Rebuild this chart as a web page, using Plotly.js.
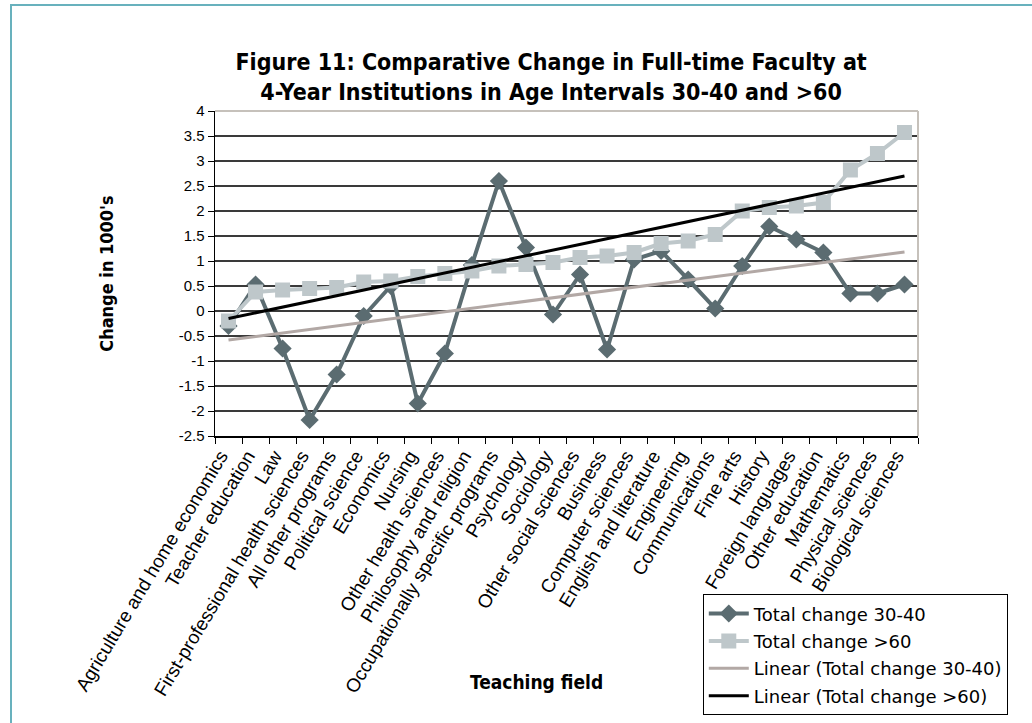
<!DOCTYPE html>
<html>
<head>
<meta charset="utf-8">
<script src="https://cdn.plot.ly/plotly-3.0.1.min.js"></script>
<style>
  html, body { margin: 0; padding: 0; background: #fff; }
  #wrap { position: relative; width: 1032px; height: 723px; overflow: hidden; }
  #chart { width: 1032px; height: 723px; }
  #frame { position: absolute; left: 10px; top: 4px; right: -10px; bottom: -10px;
           border-top: 2px solid #68b1bd; border-left: 2px solid #68b1bd; pointer-events: none; }
</style>
</head>
<body>
<div id="wrap">
  <div id="chart"></div>
  <div id="frame"></div>
</div>
<script>
// ---- data ----
const categories = [
  "Agriculture and home economics", "Teacher education", "Law",
  "First-professional health sciences", "All other programs", "Political science",
  "Economics", "Nursing", "Other health sciences", "Philosophy and religion",
  "Occupationally specific programs", "Psychology", "Sociology",
  "Other social sciences", "Business", "Computer sciences", "English and literature",
  "Engineering", "Communications", "Fine arts", "History", "Foreign languages",
  "Other education", "Mathematics", "Physical sciences", "Biological sciences"
];
const change3040 = [-0.3, 0.53, -0.75, -2.18, -1.27, -0.1, 0.5, -1.85, -0.85, 0.92,
  2.6, 1.27, -0.07, 0.73, -0.77, 1.03, 1.2, 0.63, 0.05, 0.9, 1.69, 1.43, 1.17,
  0.35, 0.35, 0.53];
const changeOver60 = [-0.2, 0.38, 0.42, 0.45, 0.47, 0.58, 0.6, 0.69, 0.75, 0.8,
  0.9, 0.93, 0.97, 1.07, 1.1, 1.17, 1.35, 1.4, 1.53, 2.0, 2.07, 2.1, 2.17,
  2.82, 3.15, 3.57];
// trendline end values as drawn in the reference (first and last category)
const trend3040Ends = [-0.58, 1.18];
const trendOver60Ends = [-0.15, 2.7];
const seriesNames = ["Total change 30-40", "Total change >60",
  "Linear (Total change 30-40)", "Linear (Total change >60)"];
const yTickValues = [-2.5, -2, -1.5, -1, -0.5, 0, 0.5, 1, 1.5, 2, 2.5, 3, 3.5, 4];

const trendX = [categories[0], categories[categories.length - 1]];

const traces = [
  {
    x: categories, y: change3040, name: seriesNames[0], legendgroup: "a",
    type: "scatter", mode: "lines+markers",
    line: { color: "#5b6c71", width: 4 },
    marker: { symbol: "diamond", size: 14, color: "#5b6c71" }
  },
  {
    x: categories, y: changeOver60, name: seriesNames[1], legendgroup: "b",
    type: "scatter", mode: "lines+markers",
    line: { color: "#bec7ca", width: 4 },
    marker: { symbol: "square", size: 15, color: "#bec7ca" }
  },
  {
    x: trendX, y: trend3040Ends, name: seriesNames[2], legendgroup: "c",
    type: "scatter", mode: "lines",
    line: { color: "#b2a8a5", width: 3 }
  },
  {
    x: trendX, y: trendOver60Ends, name: seriesNames[3], legendgroup: "d",
    type: "scatter", mode: "lines",
    line: { color: "#000000", width: 3 }
  }
];

const layout = {
  width: 1032, height: 723,
  margin: { l: 215, r: 114, t: 111, b: 287, autoexpand: false },
  paper_bgcolor: "#ffffff", plot_bgcolor: "#ffffff",
  showlegend: true,
  title: {
    text: "Figure 11: Comparative Change in Full-time Faculty at<br>4-Year Institutions in Age Intervals 30-40 and >60",
    x: 0.534, xanchor: "center", xref: "container",
    y: 0.903, yanchor: "top", yref: "container",
    font: { family: "DejaVu Sans Condensed, Liberation Sans Narrow, sans-serif", size: 23, weight: 700, color: "#000" }
  },
  xaxis: {
    type: "category", range: [-0.5, categories.length - 0.5],
    showline: true, linecolor: "#000", linewidth: 1.5,
    ticks: "outside", tickson: "boundaries", ticklen: 6, tickcolor: "#000", tickwidth: 1,
    tickangle: -59, ticklabelshift: -8,
    tickfont: { family: "Liberation Sans, Arial, sans-serif", size: 19, color: "#000" },
    showgrid: false, zeroline: false, fixedrange: true, automargin: false
  },
  yaxis: {
    range: [-2.5, 4], tickmode: "array", tickvals: yTickValues,
    ticktext: yTickValues.map(v => String(v)),
    showgrid: true, gridcolor: "#3a3a3a", gridwidth: 1.5,
    zeroline: false,
    showline: true, linecolor: "#000", linewidth: 1.5,
    ticks: "outside", ticklen: 6, tickcolor: "#000", tickwidth: 1,
    tickfont: { family: "Liberation Sans, Arial, sans-serif", size: 15, color: "#000" },
    title: {
      text: "Change in 1000's", standoff: 60,
      font: { family: "DejaVu Sans Condensed, Liberation Sans Narrow, sans-serif", size: 18, weight: 700, color: "#000" }
    },
    fixedrange: true, automargin: false
  },
  legend: {
    xref: "container", yref: "container",
    x: 0.681, y: 0.178, xanchor: "left", yanchor: "top",
    bgcolor: "#ffffff", bordercolor: "#000", borderwidth: 1,
    font: { family: "DejaVu Sans, Verdana, sans-serif", size: 18, color: "#000" },
    itemwidth: 40, traceorder: "grouped", tracegroupgap: 1
  },
  annotations: [
    {
      text: "Teaching field", xref: "paper", yref: "paper",
      x: 0.458, y: -0.757, xanchor: "center", yanchor: "middle", showarrow: false,
      font: { family: "DejaVu Sans Condensed, Liberation Sans Narrow, sans-serif", size: 19, weight: 700, color: "#000" }
    }
  ],
  shapes: [
    { type: "line", xref: "paper", yref: "paper", x0: 0, x1: 1, y0: 1, y1: 1, layer: "above",
      line: { color: "#c6c1bb", width: 2 } },
    { type: "line", xref: "paper", yref: "paper", x0: 1, x1: 1, y0: 0, y1: 1, layer: "above",
      line: { color: "#c6c1bb", width: 2 } }
  ]
};

Plotly.newPlot("chart", traces, layout, { displayModeBar: false, staticPlot: true });
</script>
</body>
</html>
